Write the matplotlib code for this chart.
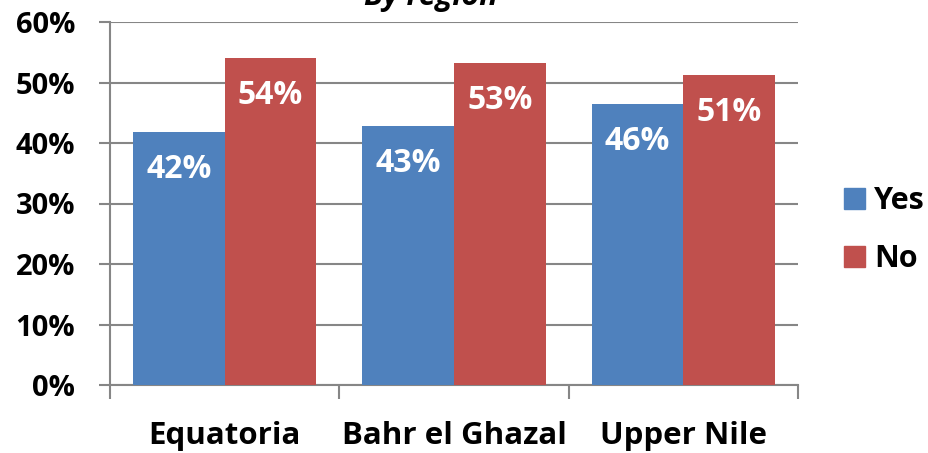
import matplotlib
matplotlib.use("Agg")
import matplotlib.pyplot as plt
from matplotlib.patches import Patch

# data (percent)
regions = ["Equatoria", "Bahr el Ghazal", "Upper Nile"]
yes_vals = [41.8, 42.8, 46.4]
no_vals = [54.1, 53.2, 51.2]
yes_labels = ["42%", "43%", "46%"]
no_labels = ["54%", "53%", "51%"]
yticks = [0, 10, 20, 30, 40, 50, 60]

blue = "#4F81BD"
red = "#C0504D"
grid_col = "#868686"

plt.rcParams["font.family"] = ["Open Sans", "DejaVu Sans"]
plt.rcParams["font.weight"] = "bold"

fig = plt.figure(figsize=(9.29, 4.53), dpi=100)
ax = fig.add_axes([110 / 929, 68 / 453, 688 / 929, 363 / 453])

x = list(range(len(regions)))
w = 0.4
ax.bar([i - w / 2 for i in x], yes_vals, width=w, color=blue, zorder=3)
ax.bar([i + w / 2 for i in x], no_vals, width=w, color=red, zorder=3)

for i in x:
    ax.annotate(yes_labels[i], (i - w / 2, yes_vals[i]), xytext=(0, -27),
                textcoords="offset points", ha="center", va="center",
                color="white", fontsize=23, fontweight="bold", zorder=4)
    ax.annotate(no_labels[i], (i + w / 2, no_vals[i]), xytext=(0, -27),
                textcoords="offset points", ha="center", va="center",
                color="white", fontsize=23, fontweight="bold", zorder=4)

ax.set_xlim(-0.5, 2.5)
ax.set_ylim(0, 60)
ax.set_yticks(yticks)
ax.set_yticklabels([f"{v}%" for v in yticks])
ax.set_xticks(x)
ax.set_xticklabels(regions)
ax.set_xticks([-0.5, 0.5, 1.5, 2.5], minor=True)

ax.tick_params(axis="y", length=8, width=1.5, color=grid_col, pad=17, labelsize=21)
ax.tick_params(axis="x", which="major", length=0, pad=26, labelsize=22.5)
ax.tick_params(axis="x", which="minor", length=10, width=1.5, color=grid_col)
for lab in ax.get_xticklabels() + ax.get_yticklabels():
    lab.set_fontweight("bold")

ax.grid(axis="y", color=grid_col, linewidth=1.5, zorder=0)
for s in ["top", "right"]:
    ax.spines[s].set_visible(False)
for s in ["left", "bottom"]:
    ax.spines[s].set_color(grid_col)
    ax.spines[s].set_linewidth(1.5)
ax.set_axisbelow(True)

fig.text(431 / 929, 1 - 5 / 453, "By region", ha="center", va="baseline",
         fontsize=22, fontweight="bold", fontstyle="italic")

handles = [Patch(color=blue, label="Yes"), Patch(color=red, label="No")]
leg = fig.legend(handles=handles, loc="center left", bbox_to_anchor=(844 / 929, 1 - 230 / 453),
                 frameon=False, fontsize=22, handlelength=0.68, handleheight=0.68,
                 handletextpad=0.3, labelspacing=0.9, borderpad=0, borderaxespad=0)
for t in leg.get_texts():
    t.set_fontweight("bold")

fig.savefig("out.png", dpi=100)
